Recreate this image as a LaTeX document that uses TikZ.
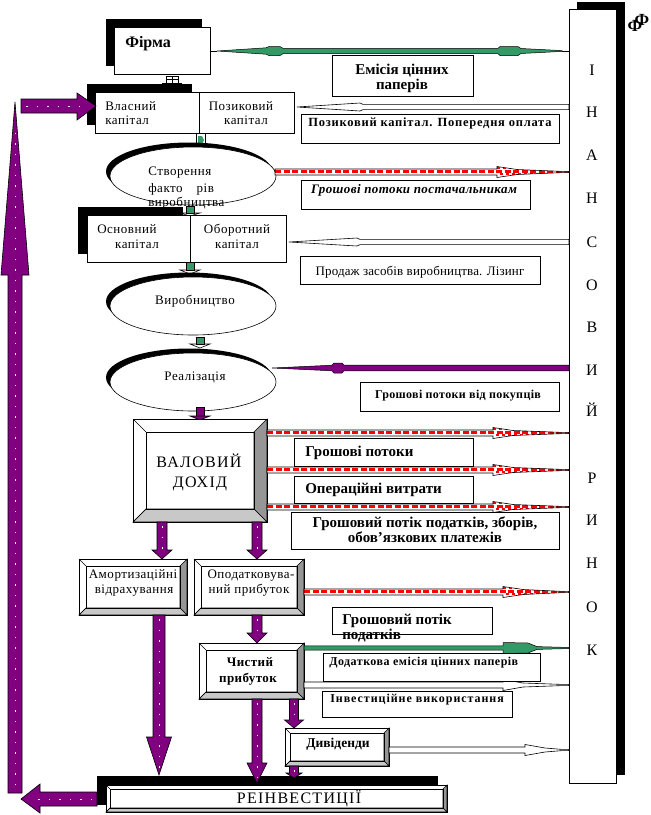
\documentclass[tikz,border=0pt]{standalone}
\usepackage{fontspec}
\setmainfont{Liberation Serif}
\definecolor{pur}{RGB}{128,0,128}
\definecolor{grn}{RGB}{51,153,102}
\definecolor{rd}{RGB}{255,0,0}
\definecolor{bevdark}{RGB}{150,150,150}
\definecolor{bevlight}{RGB}{200,200,200}
% bevelled box: x1 y1 x2 y2 d
\newcommand\bevbox[5]{%
 \fill[white] (#1,#2) rectangle (#3,#4);
 \filldraw[fill=bevdark] (#3,#2) -- (#3,#4) -- ({#3-#5},{#4-#5}) -- ({#3-#5},{#2+#5}) -- cycle;
 \filldraw[fill=bevlight] (#1,#4) -- (#3,#4) -- ({#3-#5},{#4-#5}) -- ({#1+#5},{#4-#5}) -- cycle;
 \draw (#1,#2) -- ({#1+#5},{#2+#5}) (#1,#4) -- ({#1+#5},{#4-#5});
 \draw[line width=0.9pt] (#1,#2) rectangle (#3,#4);
 \draw (#1+#5,#2+#5) rectangle ({#3-#5},{#4-#5});}
% purple block arrow down: x ytop yheadbase ytip shafthalf headhalf
\newcommand\vdown[6]{%
 \filldraw[fill=pur] ({#1-#5},#2) -- ({#1+#5},#2) -- ({#1+#5},#3) -- ({#1+#6},#3) -- (#1,#4) -- ({#1-#6},#3) -- ({#1-#5},#3) -- cycle;
 \draw[white,line width=0.8pt,dash pattern=on 1.5pt off 9pt] (#1,{#2+4}) -- (#1,{#4-5});}
% red chequered flow to the market: xstart xheadbase y
\newcommand\redflow[3]{%
 \path[fill=white,draw=black,path picture={
   \draw[rd,line width=3pt,dash pattern=on 6pt off 2.5pt] (#1,{#3-1}) -- (569,{#3-1});
   \draw[rd,line width=2.6pt,dash pattern=on 3pt off 3pt] (#2,{#3-3.9}) -- (569,{#3-3.9});
   \draw[rd,line width=2.6pt,dash pattern=on 3pt off 3pt,dash phase=3pt] (#2,{#3+2.1}) -- (569,{#3+2.1});}]
 (#1,{#3-3}) -- (#2,{#3-3}) -- (#2,{#3-5.5}) -- ({#2+20},{#3-2.5}) -- (562,{#3-0.6}) -- (569,{#3-0.6}) -- (569,{#3+0.6}) -- (562,{#3+0.6}) -- ({#2+20},{#3+2.5}) -- (#2,{#3+5.5}) -- (#2,{#3+3}) -- (#1,{#3+3}) -- cycle;}
% white flow to the market
\newcommand\whiteflow[3]{%
 \filldraw[fill=white] (#1,{#3-3}) -- (#2,{#3-3}) -- (#2,{#3-5.5}) -- ({#2+20},{#3-2}) -- (562,{#3-0.6}) -- (569,{#3-0.6}) -- (569,{#3+0.6}) -- (562,{#3+0.6}) -- ({#2+20},{#3+2}) -- (#2,{#3+5.5}) -- (#2,{#3+3}) -- (#1,{#3+3}) -- cycle;}
% white hollow arrow from the market, pointing left: xtip xheadbase y
\newcommand\hollowL[3]{%
 \filldraw[fill=white] (#1,#3) -- (#2,{#3-4}) -- ({#2+3},{#3-2.6}) -- (569,{#3-2.6}) -- (569,{#3+2.6}) -- ({#2+3},{#3+2.6}) -- (#2,{#3+4}) -- cycle;}
% ellipse with shadow
\newcommand\shellipse[2]{%
 \fill[black] ({#1-4},{#2-4.5}) ellipse [x radius=83,y radius=29];
 \filldraw[fill=white] (#1,#2) ellipse [x radius=83,y radius=29];}
% small green connector: x ytop yheadbase ytip
\newcommand\gconn[4]{%
 \filldraw[fill=white] ({#1-10},#3) -- ({#1+10},#3) -- (#1,#4) -- cycle;
 \filldraw[fill=grn,draw=black,line width=0.3pt] ({#1-4},#2) rectangle ({#1+4},#3);}
\tikzset{
 rt/.style={inner sep=0pt,font=\fontsize{13}{15}\selectfont\addfontfeatures{LetterSpace=4}},
 bt/.style={inner sep=0pt,font=\fontsize{15}{17}\selectfont\bfseries},
 bs/.style={inner sep=0pt,font=\fontsize{12.5}{14}\selectfont\bfseries\addfontfeatures{LetterSpace=6}},
 mk/.style={inner sep=0pt,font=\fontsize{16}{18}\selectfont},
 bigt/.style={inner sep=0pt,font=\fontsize{16}{18}\selectfont\addfontfeatures{LetterSpace=8}},
 lbox/.style={fill=white,draw=black},
}
\begin{document}
\begin{tikzpicture}[x=1pt,y=-1pt,line width=0.6pt]
\fill[white] (0,0) rectangle (651,815);
\useasboundingbox (0,0) rectangle (651,815);

% ---------- market column
\fill (577,2) rectangle (625,775);
\filldraw[fill=white] (569,9) rectangle (616,783);
\foreach \l/\y in {І/75,Н/117,А/160,Н/203,С/247,О/290,В/332,И/375,Й/416,Р/483,И/525,Н/568,О/612,К/655}
  \node[mk,anchor=base] (mk\y) at (592,\y) {\l};
\node[inner sep=0pt,anchor=base,font=\fontsize{17}{17}\selectfont\bfseries] (phiA) at (642,25) {Ф};
\node[inner sep=0pt,anchor=base,font=\fontsize{17}{17}\selectfont\bfseries] (phiB) at (635,31) {Ф};

% ---------- firm
\fill (106,19) rectangle (202,66);
\filldraw[fill=white] (114,27) rectangle (210,74);
\node[inner sep=0pt,anchor=base west,font=\fontsize{16}{18}\selectfont\bfseries] (firma) at (125,47) {Фірма};
\filldraw[fill=white] (166,76) rectangle (178,83);
\draw (172,76) -- (172,83) (166,79.5) -- (178,79.5) (162,83.5) -- (182,83.5);

% ---------- capital boxes
\fill (87,84) rectangle (192,125);
\filldraw[fill=white] (95,92) rectangle (294,133);
\draw (199,92) -- (199,133);
\node[rt,anchor=base west] (vl1) at (105,110) {Власний};
\node[rt,anchor=base west] (vl2) at (105,124) {капітал};
\node[rt,anchor=base] (pz1) at (241,110) {Позиковий};
\node[rt,anchor=base] (pz2) at (246,124) {капітал};
\filldraw[fill=white] (196,133) rectangle (205,146);
\fill[grn] (198,136) -- (202,136) -- (204,140) -- (202,144) -- (198,144) -- cycle;

\shellipse{193}{176}
\node[rt,anchor=base west] (st1) at (148,175) {Створення};
\node[rt,anchor=base west] (st2) at (148,192) {факто\hspace{14pt}рів};
\node[rt,anchor=base west] (st3) at (148,206) {виробництва};

\gconn{190}{206}{213}{216}
\fill (78,207) rectangle (183,254);
\filldraw[fill=white] (87,215) rectangle (286,262);
\draw (190,215) -- (190,262);
\node[rt,anchor=base west] (os1) at (97,233) {Основний};
\node[rt,anchor=base] (os2) at (137,248) {капітал};
\node[rt,anchor=base] (ob1) at (237,233) {Оборотний};
\node[rt,anchor=base] (ob2) at (237,248) {капітал};
\gconn{190}{262}{270}{274}

\shellipse{193}{306}
\node[rt,anchor=base] (vyr) at (195,304) {Виробництво};
\gconn{200}{337}{344}{348}
\shellipse{193}{382}
\node[rt,anchor=base] (real) at (195,380) {Реалізація};
\filldraw[fill=pur] (196,407) rectangle (204,416);
\filldraw[fill=pur] (190,416) -- (210,416) -- (200,420) -- cycle;

% ---------- gross income and lower blocks
\bevbox{133}{419}{267}{522}{13}
\node[bigt,anchor=base] (val1) at (199,467) {ВАЛОВИЙ};
\node[bigt,anchor=base] (val2) at (200,487) {ДОХІД};
\vdown{162}{522}{550}{559}{5}{10}
\vdown{257}{522}{550}{559}{5}{10}
\bevbox{79}{559}{187}{615}{7}
\bevbox{194}{559}{304}{615}{7}
\node[rt,anchor=base] (am1) at (133,578) {Амортизаційні};
\node[rt,anchor=base] (am2) at (134,593) {відрахування};
\node[rt,anchor=base] (op1) at (251,578) {Оподатковува-};
\node[rt,anchor=base] (op2) at (249,593) {ний прибуток};
\vdown{257}{615}{633}{643}{5}{10}
\bevbox{199}{643}{304}{699}{7}
\node[inner sep=0pt,anchor=base,font=\fontsize{13}{15}\selectfont\bfseries\addfontfeatures{LetterSpace=3}] (ch1) at (250,666) {Чистий};
\node[inner sep=0pt,anchor=base,font=\fontsize{13}{15}\selectfont\bfseries\addfontfeatures{LetterSpace=3}] (ch2) at (248,682) {прибуток};
\vdown{294}{699}{720}{728}{4.5}{9.5}
\bevbox{285}{728}{389}{766}{5}
\node[inner sep=0pt,anchor=base,font=\fontsize{13.5}{15}\selectfont\bfseries] (dyv) at (338,747) {Дивіденди};

\fill (97,776) rectangle (438,805);
\vdown{159}{615}{737}{775}{6}{12.5}
\vdown{257}{699}{763}{783}{5}{10}
\vdown{294}{766}{773}{778}{4.5}{8}
\bevbox{106}{785}{447}{812}{4}
\node[bigt,anchor=base] (reinv) at (299,803) {РЕІНВЕСТИЦІЇ};

% ---------- big reinvestment loop arrow
\filldraw[fill=pur] (97,792) -- (40,792) -- (40,784) -- (21,799) -- (40,813) -- (40,806) -- (97,806) -- cycle;
\draw[white,line width=0.8pt,dash pattern=on 1.5pt off 9pt] (92,799) -- (30,799);
\filldraw[fill=pur] (15,102) -- (29,275) -- (22,275) -- (22,793) -- (8,793) -- (8,275) -- (1,275) -- cycle;
\draw[white,line width=0.8pt,dash pattern=on 1.5pt off 9pt] (15,785) -- (15,125);
\filldraw[fill=pur] (21,99) -- (77,99) -- (77,93) -- (96,106) -- (77,120) -- (77,113) -- (21,113) -- cycle;
\draw[white,line width=0.8pt,dash pattern=on 1.5pt off 9pt] (26,106) -- (88,106);

% ---------- flows between firm and market
\filldraw[fill=grn,line width=0.5pt] (217,51) -- (266,47.8) -- (269,46.5) -- (280,46.5) -- (283,48.3) -- (498,48.3) -- (500,46.5) -- (518,46.5) -- (521,48.5) -- (562,50.6) -- (562,51.4) -- (521,53.5) -- (518,55.5) -- (500,55.5) -- (498,53.7) -- (283,53.7) -- (280,55.5) -- (269,55.5) -- (266,54.2) -- cycle;
\draw (211,51) -- (217,51) (562,51) -- (569,51);
\hollowL{297}{360}{107}
\redflow{275}{497}{172}
\hollowL{289}{357}{242}
\filldraw[fill=pur,line width=0.5pt] (272,368) -- (332,365.2) -- (334,363) -- (342,363) -- (344,365.2) -- (569,365.2) -- (569,370.8) -- (344,370.8) -- (342,373) -- (334,373) -- (332,370.8) -- cycle;
\redflow{267}{493}{433}
\redflow{267}{493}{470}
\redflow{267}{493}{507}
\redflow{304}{503}{592}
\filldraw[fill=grn,line width=0.5pt] (304,645.8) -- (503,645.8) -- (503,642.5) -- (528,643) -- (537,646.6) -- (563,647.3) -- (569,647.3) -- (569,648.7) -- (563,648.7) -- (537,649.4) -- (528,653) -- (503,653.5) -- (503,650.2) -- (304,650.2) -- cycle;
\whiteflow{304}{503}{685}
\whiteflow{389}{525}{750}

% ---------- label boxes
\draw[lbox] (332,55) rectangle (473,96);
\node[bt,anchor=base] (em1) at (402,74) {Емісія цінних};
\node[bt,anchor=base] (em2) at (402,89) {паперів};
\draw[lbox] (301,114) rectangle (559,143);
\node[bs,anchor=base] (pk) at (430,126) {Позиковий капітал. Попередня оплата};
\draw[lbox] (301,180) rectangle (530,209);
\node[inner sep=0pt,anchor=base,font=\fontsize{13}{15}\selectfont\bfseries\itshape\addfontfeatures{LetterSpace=3}] (gpp) at (414,193) {Грошові потоки постачальникам};
\draw[lbox] (300,256) rectangle (540,284);
\node[inner sep=0pt,anchor=base,font=\fontsize{13}{15}\selectfont\addfontfeatures{LetterSpace=1}] (prod) at (420,275) {Продаж засобів виробництва. Лізинг};
\draw[lbox] (360,382) rectangle (559,411);
\node[inner sep=0pt,anchor=base,font=\fontsize{12}{14}\selectfont\bfseries\addfontfeatures{LetterSpace=3}] (gpv) at (458,398) {Грошові потоки від покупців};
\draw[lbox] (294,438) rectangle (473,466);
\node[bt,anchor=base west] (gp) at (305,456) {Грошові потоки};
\draw[lbox] (294,476) rectangle (473,503);
\node[bt,anchor=base west] (ov) at (305,493) {Операційні витрати};
\draw[lbox] (291,512) rectangle (559,549);
\node[bt,anchor=base] (gpz1) at (425,527) {Грошовий потік податків, зборів,};
\node[bt,anchor=base] (gpz2) at (425,542) {обов’язкових платежів};
\draw[lbox] (332,607) rectangle (492,634);
\node[bt,anchor=base west] (gpt1) at (342,624) {Грошовий потік};
\node[bt,anchor=base west] (gpt2) at (342,639) {податків};
\draw[lbox] (323,653) rectangle (540,681);
\node[inner sep=0pt,anchor=base west,font=\fontsize{12}{14}\selectfont\bfseries\addfontfeatures{LetterSpace=4}] (dem) at (329,665) {Додаткова емісія цінних паперів};
\draw[lbox] (322,691) rectangle (512,717);
\node[inner sep=0pt,anchor=base west,font=\fontsize{12}{14}\selectfont\bfseries\addfontfeatures{LetterSpace=8}] (inv) at (330,702) {Інвестиційне використання};
\end{tikzpicture}
\end{document}
